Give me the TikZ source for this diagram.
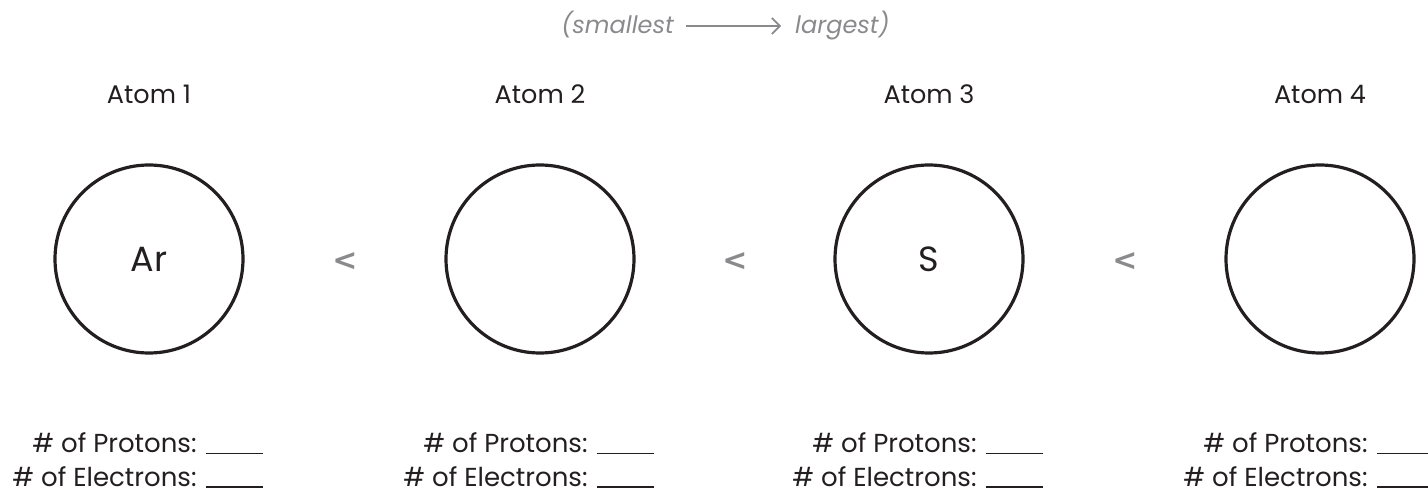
\documentclass[tikz,border=0pt]{standalone}
\usepackage{fontspec}
\setmainfont{Poppins}
\newfontfamily\symfont{DejaVu Sans}
\usetikzlibrary{arrows.meta}
\definecolor{ink}{HTML}{231F20}
\definecolor{soft}{HTML}{8A8A8D}
\newcommand{\blankline}{\rule[-1.5pt]{57pt}{1.4pt}}
\tikzset{
  atom/.style={circle, draw=ink, line width=3.2pt, minimum size=188pt, inner sep=0pt, font=\fontsize{35}{40}\selectfont, text=ink},
  title/.style={anchor=base, font=\fontsize{25.5}{30}\selectfont, text=ink, inner sep=0pt},
  lt/.style={font=\symfont\fontsize{30}{36}\selectfont, text=soft, inner sep=0pt},
  info/.style={anchor=base east, font=\fontsize{26}{30}\selectfont, text=ink, inner sep=0pt},
  hint/.style={anchor=base, font=\fontsize{24}{28}\selectfont\itshape, text=soft, inner sep=0pt}
}
\begin{document}
\begin{tikzpicture}[x=1pt,y=-1pt]
\useasboundingbox (0,0) rectangle (1428,494);
\node[hint, anchor=base east] (small) at (674,34) {(smallest};
\node[hint, anchor=base west] (large) at (795,34) {largest)};
\coordinate (as) at (686,26);
\coordinate (ae) at (781,26);
\draw[soft, line width=1.7pt, -{Straight Barb[length=8pt,width=16pt]}] (as) -- (ae);
\foreach \i/\x/\lab in {1/149/Ar, 2/540/{}, 3/929/S, 4/1320/{}} {
  \node[title] (t\i) at (\x,104) {Atom \i};
  \node[atom] (c\i) at (\x,259) {\lab};
  \node[info] (p\i) at (\x+114,453) {\# of Protons: \blankline};
  \node[info] (e\i) at (\x+114,486) {\# of Electrons: \blankline};
}
\node[lt] (l1) at (345,262) {\bfseries <};
\node[lt] (l2) at (735,262) {\bfseries <};
\node[lt] (l3) at (1125,262) {\bfseries <};
\end{tikzpicture}
\end{document}
